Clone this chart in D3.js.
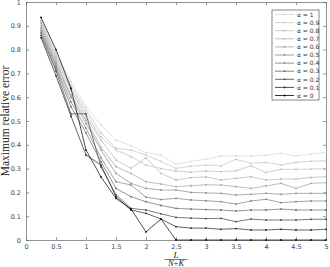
<!DOCTYPE html>
<html>
<head>
<meta charset="utf-8">
<script src="https://cdn.jsdelivr.net/npm/d3@7"></script>
<style>
  body { margin: 0; background: #fff; }
  .tick text { font-family: "DejaVu Sans", sans-serif; font-size: 6.5px; fill: #444; }
</style>
</head>
<body>
<div class="chart"></div>
<script>
// x positions (L / (N+K))
var xVals = [0.25, 0.5, 0.75, 1, 1.25, 1.5, 1.75, 2, 2.25, 2.5, 2.75, 3, 3.25, 3.5, 3.75, 4, 4.25, 4.5, 4.75, 5];

// legend labels, from alpha = 1 down to alpha = 0
var alphaLabels = ["α = 1", "α = 0.9", "α = 0.8", "α = 0.7", "α = 0.6", "α = 0.5", "α = 0.4", "α = 0.3", "α = 0.2", "α = 0.1", "α = 0"];

// maximum relative error, one array per alpha
var errA10 = [0.925, 0.79, 0.665, 0.56, 0.483, 0.42, 0.396, 0.367, 0.357, 0.318, 0.33, 0.34, 0.353, 0.353, 0.353, 0.357, 0.364, 0.353, 0.361, 0.368];
var errA09 = [0.915, 0.78, 0.65, 0.546, 0.45, 0.385, 0.378, 0.357, 0.33, 0.301, 0.31, 0.315, 0.311, 0.339, 0.322, 0.326, 0.315, 0.326, 0.331, 0.333];
var errA08 = [0.92, 0.77, 0.64, 0.53, 0.433, 0.378, 0.35, 0.315, 0.30, 0.29, 0.285, 0.29, 0.287, 0.291, 0.311, 0.284, 0.297, 0.297, 0.298, 0.30];
var errA07 = [0.91, 0.76, 0.63, 0.517, 0.42, 0.336, 0.301, 0.345, 0.28, 0.252, 0.262, 0.265, 0.252, 0.259, 0.266, 0.252, 0.256, 0.256, 0.263, 0.266];
var errA06 = [0.90, 0.75, 0.61, 0.504, 0.39, 0.308, 0.28, 0.245, 0.235, 0.224, 0.228, 0.232, 0.231, 0.224, 0.217, 0.227, 0.238, 0.217, 0.238, 0.241];
var errA05 = [0.89, 0.74, 0.60, 0.49, 0.378, 0.28, 0.238, 0.217, 0.21, 0.21, 0.20, 0.198, 0.196, 0.189, 0.192, 0.196, 0.192, 0.196, 0.196, 0.196];
var errA04 = [0.88, 0.73, 0.58, 0.47, 0.345, 0.245, 0.231, 0.18, 0.17, 0.175, 0.168, 0.165, 0.161, 0.151, 0.164, 0.171, 0.157, 0.161, 0.164, 0.164];
var errA03 = [0.87, 0.72, 0.56, 0.45, 0.328, 0.217, 0.182, 0.161, 0.145, 0.133, 0.13, 0.128, 0.126, 0.122, 0.126, 0.126, 0.130, 0.126, 0.126, 0.126];
var errA02 = [0.86, 0.71, 0.53, 0.53, 0.307, 0.19, 0.133, 0.126, 0.11, 0.095, 0.092, 0.09, 0.091, 0.077, 0.088, 0.084, 0.084, 0.084, 0.087, 0.087];
var errA01 = [0.85, 0.69, 0.52, 0.357, 0.315, 0.182, 0.126, 0.112, 0.088, 0.056, 0.05, 0.05, 0.045, 0.048, 0.042, 0.042, 0.045, 0.042, 0.042, 0.045];
var errA00 = [0.935, 0.80, 0.637, 0.378, 0.265, 0.175, 0.13, 0.034, 0.088, 0, 0, 0, 0, 0, 0, 0, 0, 0, 0, 0];

var xTicks = [0, 0.5, 1, 1.5, 2, 2.5, 3, 3.5, 4, 4.5, 5];
var yTicks = [0, 0.1, 0.2, 0.3, 0.4, 0.5, 0.6, 0.7, 0.8, 0.9, 1];

var allErr = [errA10, errA09, errA08, errA07, errA06, errA05, errA04, errA03, errA02, errA01, errA00];
var lineColors = ["#d6d2e8", "#d2bcbc", "#c4bea8", "#adb8ad", "#a4a4a4", "#928888", "#7c8074", "#5e6e5e", "#444444", "#222222", "#000000"];

var svgWidth = 330;
var svgHeight = 267;

var margin = { top: 2, right: 4, bottom: 27, left: 26 };
var width = svgWidth - margin.left - margin.right;
var height = svgHeight - margin.top - margin.bottom;

var svg = d3.select(".chart").append("svg")
    .attr("width", svgWidth)
    .attr("height", svgHeight);

var chartGroup = svg.append("g")
    .attr("transform", `translate(${margin.left}, ${margin.top})`);

var xScale = d3.scaleLinear().domain([0, 5]).range([0, width]);
var yScale = d3.scaleLinear().domain([0, 1]).range([height, 0]);

// axes with inward ticks on all four sides
var bottomAxis = d3.axisBottom(xScale).tickValues(xTicks).tickSizeInner(-3).tickSizeOuter(0).tickPadding(4).tickFormat(d3.format(""));
var leftAxis = d3.axisLeft(yScale).tickValues(yTicks).tickSizeInner(-3).tickSizeOuter(0).tickPadding(5).tickFormat(d3.format(""));
var topAxis = d3.axisTop(xScale).tickValues(xTicks).tickSizeInner(-3).tickSizeOuter(0).tickFormat("");
var rightAxis = d3.axisRight(yScale).tickValues(yTicks).tickSizeInner(-3).tickSizeOuter(0).tickFormat("");

chartGroup.append("g").attr("transform", `translate(0, ${height})`).call(bottomAxis);
chartGroup.append("g").call(leftAxis);
chartGroup.append("g").call(topAxis);
chartGroup.append("g").attr("transform", `translate(${width}, 0)`).call(rightAxis);

chartGroup.selectAll(".domain").attr("stroke", "#777").attr("stroke-width", 0.8);
chartGroup.selectAll(".tick line").attr("stroke", "#555").attr("stroke-width", 0.6);

// build series
var series = allErr.map((vals, i) => ({
    label: alphaLabels[i],
    color: lineColors[i],
    points: vals.map((v, j) => ({ x: xVals[j], y: v }))
}));

var line = d3.line().x(d => xScale(d.x)).y(d => yScale(d.y));

var seriesGroup = chartGroup.append("g")
    .selectAll("g")
    .data(series)
    .enter()
    .append("g");

seriesGroup.append("path")
    .attr("d", d => line(d.points))
    .attr("fill", "none")
    .attr("stroke", d => d.color)
    .attr("stroke-width", 0.7);

seriesGroup.selectAll("circle")
    .data(d => d.points.map(p => ({ x: p.x, y: p.y, color: d.color })))
    .enter()
    .append("circle")
    .attr("cx", d => xScale(d.x))
    .attr("cy", d => yScale(d.y))
    .attr("r", 0.9)
    .attr("fill", d => d.color);

// legend
var legend = svg.append("g").attr("transform", "translate(272, 10)");

legend.append("rect")
    .attr("width", 47)
    .attr("height", 90)
    .attr("fill", "#fff")
    .attr("stroke", "#555")
    .attr("stroke-width", 0.7);

var legendRows = legend.selectAll(".row")
    .data(series)
    .enter()
    .append("g")
    .attr("transform", (d, i) => `translate(0, ${4.5 + i * 8.1})`);

legendRows.append("line")
    .attr("x1", 3).attr("x2", 22)
    .attr("stroke", d => d.color)
    .attr("stroke-width", 0.8);

legendRows.append("circle")
    .attr("cx", 12.5)
    .attr("r", 0.9)
    .attr("fill", d => d.color);

legendRows.append("text")
    .attr("x", 25)
    .attr("y", 2.2)
    .style("font-family", "DejaVu Sans, sans-serif")
    .style("font-size", "6px")
    .attr("fill", "#333")
    .text(d => d.label);

// y label
svg.append("text")
    .attr("transform", `translate(9, ${margin.top + height / 2}) rotate(-90)`)
    .style("text-anchor", "middle")
    .style("font-family", "Liberation Serif, serif")
    .style("font-size", "11.5px")
    .attr("fill", "#222")
    .text("Maximum relative error");

// x label as fraction L / (N+K)
var cx = margin.left + width / 2;
var frac = svg.append("g").style("font-family", "Liberation Serif, serif").attr("fill", "#222");

frac.append("text")
    .attr("x", cx).attr("y", 257.5)
    .style("text-anchor", "middle")
    .style("font-size", "9px")
    .style("font-style", "italic")
    .text("L");

frac.append("line")
    .attr("x1", cx - 11.5).attr("x2", cx + 11.5)
    .attr("y1", 259.5).attr("y2", 259.5)
    .attr("stroke", "#222").attr("stroke-width", 0.6);

var den = frac.append("text")
    .attr("x", cx).attr("y", 266.3)
    .style("text-anchor", "middle")
    .style("font-size", "8.5px");
den.append("tspan").style("font-style", "italic").text("N");
den.append("tspan").text("+");
den.append("tspan").style("font-style", "italic").text("K");
</script>
</body>
</html>
